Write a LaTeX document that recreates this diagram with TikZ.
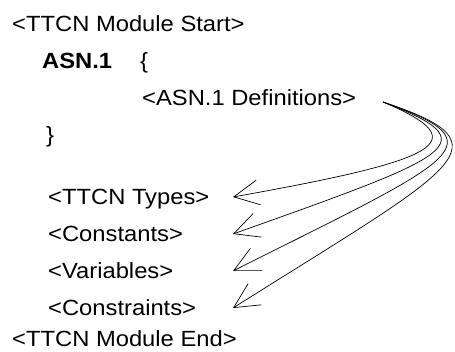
\documentclass[tikz,border=0pt]{standalone}
\usepackage{fontspec}
\setmainfont[FakeStretch=1.08]{Liberation Sans}
\usetikzlibrary{arrows.meta}

\begin{document}
\begin{tikzpicture}[x=1pt,y=1pt,
    txt/.style={anchor=base west,inner sep=0pt,font=\fontsize{22}{26}\selectfont},
    link/.style={line width=0.7pt,-{Straight Barb[length=25pt,width=25pt,line width=0.7pt]}}]
    \useasboundingbox (0,0) rectangle (455,-352);

    \node[txt] (modstart) at (12,-32) {<TTCN Module Start>};
    \node[txt] (asn) at (42,-69) {\bfseries ASN.1};
    \node[txt] (lbrace) at (140,-69) {\{};
    \node[txt] (defs) at (142,-106) {<ASN.1 Definitions>};
    \node[txt] (rbrace) at (46,-143) {\}};
    \node[txt] (types) at (48,-205) {<TTCN Types>};
    \node[txt] (consts) at (48,-242) {<Constants>};
    \node[txt] (vars) at (48,-279) {<Variables>};
    \node[txt] (cons) at (48,-316) {<Constraints>};
    \node[txt] (modend) at (12,-347) {<TTCN Module End>};

    \coordinate (src) at (383,-102);
    \coordinate (tip1) at (233,-197);
    \coordinate (tip2) at (233,-234);
    \coordinate (tip3) at (233,-271);
    \coordinate (tip4) at (233,-308);

    \draw[link] (src) .. controls (478,-142) and (440,-160) .. (tip1);
    \draw[link] (src) .. controls (490,-143) and (455,-155) .. (tip2);
    \draw[link] (src) .. controls (502,-144) and (458,-158) .. (tip3);
    \draw[link] (src) .. controls (512,-145) and (460,-165) .. (tip4);
\end{tikzpicture}
\end{document}
